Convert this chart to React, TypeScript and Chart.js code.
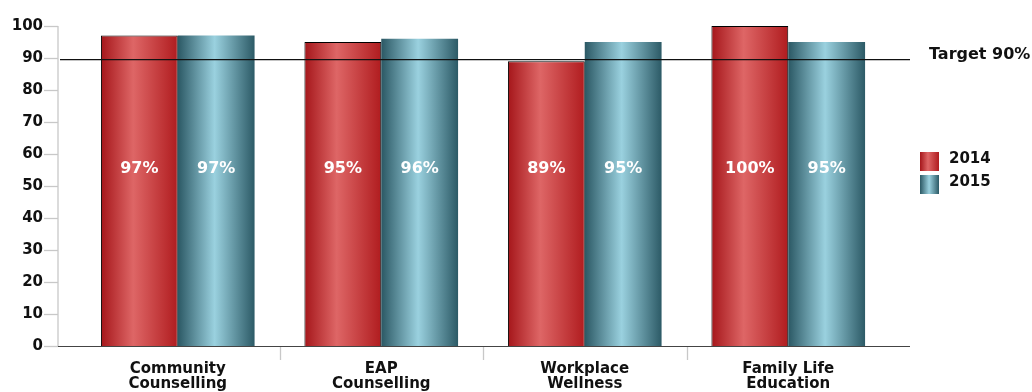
import React, { useEffect, useRef } from "react";
import { Chart, registerables } from "chart.js";

Chart.register(...registerables);

const categories: string[][] = [
  ["Community", "Counselling"],
  ["EAP", "Counselling"],
  ["Workplace", "Wellness"],
  ["Family Life", "Education"],
];
const seriesNames = ["2014", "2015"];
const values2014 = [97, 95, 89, 100];
const values2015 = [97, 96, 95, 95];
const targetValue = 89.5;
const targetLabel = "Target 90%";
const valueLabelLevel = 55.3;

const FONT = "'DejaVu Sans', Verdana, sans-serif";
const CAT_PCT = 0.755;

const redStops: [number, string][] = [
  [0, "#a5161a"],
  [0.42, "#de6666"],
  [1, "#b01c1f"],
];
const tealStops: [number, string][] = [
  [0, "#2b5864"],
  [0.48, "#9ad1df"],
  [1, "#2c5a66"],
];
const stopsFor = [redStops, tealStops];

function makeGradient(ctx: CanvasRenderingContext2D, left: number, width: number, stops: [number, string][]) {
  const g = ctx.createLinearGradient(left, 0, left + width, 0);
  stops.forEach(([o, c]) => g.addColorStop(o, c));
  return g;
}

function barBg(dsIndex: number) {
  return (c: any) => {
    const chart = c.chart;
    const xs = chart.scales?.x;
    if (!xs || !chart.chartArea || c.dataIndex === undefined) return stopsFor[dsIndex][1][1];
    const cat = xs.width / categories.length;
    const bw = (cat * CAT_PCT) / 2;
    const center = xs.getPixelForValue(c.dataIndex);
    const left = center - bw + dsIndex * bw;
    return makeGradient(chart.ctx, left, bw, stopsFor[dsIndex]);
  };
}

const overlayPlugin = {
  id: "overlay",
  afterDraw(chart: any) {
    const { ctx, chartArea, scales } = chart;
    const xs = scales.x;
    const ys = scales.y;
    const axisX = chartArea.left - 18;
    const lineRight = chartArea.right + 20;
    ctx.save();
    // y axis line
    ctx.strokeStyle = "#c8c8c8";
    ctx.lineWidth = 1.3;
    ctx.beginPath();
    ctx.moveTo(axisX, ys.getPixelForValue(100));
    ctx.lineTo(axisX, chartArea.bottom);
    ctx.stroke();
    // y tick marks
    ys.ticks.forEach((t: any) => {
      const y = Math.round(ys.getPixelForValue(t.value)) + 0.5;
      ctx.beginPath();
      ctx.moveTo(axisX - 14, y);
      ctx.lineTo(axisX, y);
      ctx.stroke();
    });
    // category separators
    for (let i = 0; i < categories.length - 1; i++) {
      const x = Math.round((xs.getPixelForValue(i) + xs.getPixelForValue(i + 1)) / 2) + 0.5;
      ctx.beginPath();
      ctx.moveTo(x, chartArea.bottom);
      ctx.lineTo(x, chartArea.bottom + 14);
      ctx.stroke();
    }
    // x axis line
    ctx.strokeStyle = "#444";
    ctx.lineWidth = 1.2;
    ctx.beginPath();
    ctx.moveTo(axisX, chartArea.bottom + 0.5);
    ctx.lineTo(lineRight, chartArea.bottom + 0.5);
    ctx.stroke();
    // target line
    const ty = ys.getPixelForValue(targetValue);
    ctx.strokeStyle = "#111";
    ctx.lineWidth = 1.4;
    ctx.beginPath();
    ctx.moveTo(axisX + 2, ty);
    ctx.lineTo(lineRight, ty);
    ctx.stroke();
    ctx.fillStyle = "#111";
    ctx.font = `bold 16px ${FONT}`;
    ctx.textBaseline = "middle";
    ctx.textAlign = "left";
    ctx.fillText(targetLabel, chartArea.right + 39, ty - 5);
    // value labels
    ctx.fillStyle = "#ffffff";
    ctx.font = `bold 16px ${FONT}`;
    ctx.textAlign = "center";
    const ly = ys.getPixelForValue(valueLabelLevel);
    chart.data.datasets.forEach((ds: any, di: number) => {
      const meta = chart.getDatasetMeta(di);
      meta.data.forEach((el: any, i: number) => {
        ctx.fillText(`${ds.data[i]}%`, el.x, ly);
      });
    });
    // legend
    const lx = chartArea.right + 30;
    const ly0 = ys.getPixelForValue(60) - 2;
    seriesNames.forEach((name, i) => {
      const top = ly0 + i * 23;
      ctx.fillStyle = makeGradient(ctx, lx, 19, stopsFor[i]);
      ctx.fillRect(lx, top, 19, 19);
      ctx.fillStyle = "#111";
      ctx.font = `bold 15px ${FONT}`;
      ctx.textAlign = "left";
      ctx.fillText(name, lx + 29, top + 7);
    });
    ctx.restore();
  },
};

export default function App() {
  const ref = useRef<HTMLCanvasElement>(null);
  useEffect(() => {
    if (!ref.current) return;
    Chart.defaults.font.family = FONT;
    const chart = new Chart(ref.current, {
      type: "bar",
      data: {
        labels: categories,
        datasets: [
          {
            label: seriesNames[0],
            data: values2014,
            backgroundColor: barBg(0),
            borderColor: "#000000",
            borderWidth: 1,
            borderSkipped: "bottom",
          },
          {
            label: seriesNames[1],
            data: values2015,
            backgroundColor: barBg(1),
            borderWidth: 0,
          },
        ],
      },
      options: {
        responsive: false,
        animation: false,
        events: [],
        layout: { padding: { top: 26, right: 142, left: 0, bottom: 0 } },
        plugins: { legend: { display: false }, tooltip: { enabled: false } },
        datasets: { bar: { categoryPercentage: CAT_PCT, barPercentage: 1 } },
        scales: {
          x: {
            grid: { display: false, drawTicks: false },
            border: { display: false },
            ticks: {
              color: "#111",
              font: { size: 15, weight: "bold", lineHeight: 0.97 },
              padding: 16,
              maxRotation: 0,
              autoSkip: false,
            },
            afterFit: (axis: any) => {
              axis.height = 46;
              axis.paddingLeft = 0;
              axis.paddingRight = 0;
            },
          },
          y: {
            min: 0,
            max: 100,
            grid: { display: false, drawTicks: false },
            border: { display: false },
            ticks: {
              stepSize: 10,
              color: "#111",
              font: { size: 15, weight: "bold" },
              padding: 33,
            },
            afterFit: (axis: any) => {
              axis.width = 76;
              axis.paddingTop = 0;
              axis.paddingBottom = 0;
            },
          },
        },
      },
      plugins: [overlayPlugin],
    });
    return () => chart.destroy();
  }, []);
  return (
    <div style={{ position: "absolute", left: 0, top: 0, width: 1032, height: 392, background: "#fff" }}>
      <canvas ref={ref} width={1032} height={392} />
    </div>
  );
}
